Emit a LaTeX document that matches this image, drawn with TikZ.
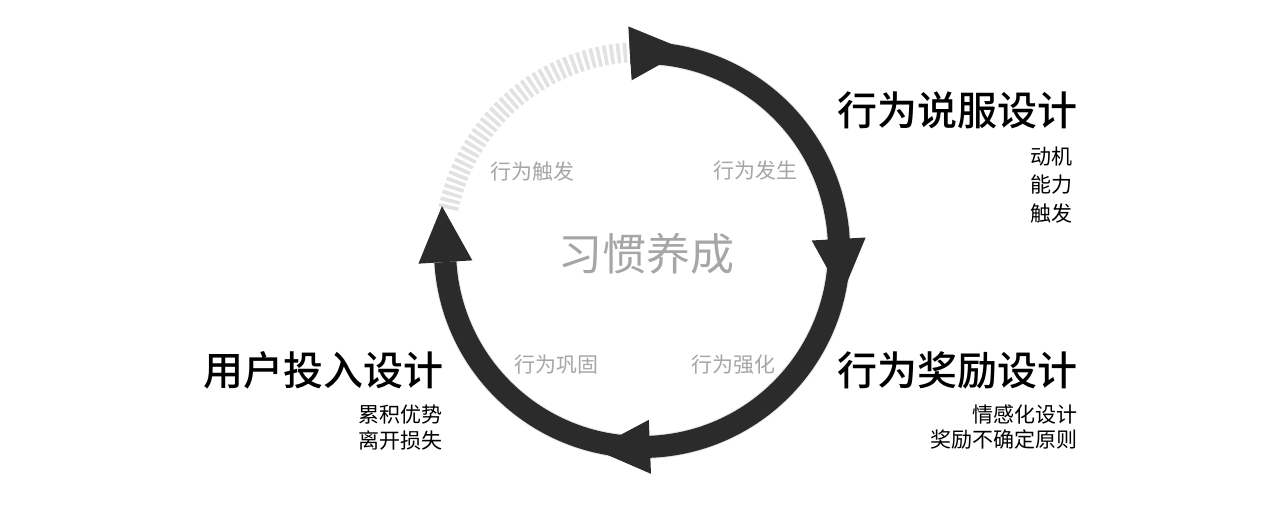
\documentclass[tikz,border=0pt]{standalone}
\usepackage{fontspec}
\newfontfamily\cjk{Noto Sans CJK SC}
\newfontfamily\cjkmed{Noto Sans CJK SC Medium}
\definecolor{band}{HTML}{2B2B2B}
\definecolor{dashgrey}{HTML}{E2E2E2}
\definecolor{lbl}{HTML}{A6A6A6}
\definecolor{shade}{HTML}{C8C8C8}
\tikzset{
  bandline/.style={line width=22pt, color=band},
  shadowline/.style={line width=24pt, color=shade, opacity=0.45},
  headfill/.style={fill=band, draw=none},
  dashband/.style={line width=20pt, color=dashgrey, dash pattern=on 3.6pt off 3pt},
  title/.style={font=\cjkmed\fontsize{40}{44}\selectfont, text=black, inner sep=0pt, anchor=east},
  sub/.style={font=\cjk\fontsize{21}{24}\selectfont, text=black, inner sep=0pt, anchor=east},
  stage/.style={font=\cjk\fontsize{21}{24}\selectfont, text=lbl, inner sep=0pt},
  centre/.style={font=\cjk\fontsize{44}{48}\selectfont, text=lbl, inner sep=0pt}
}
\begin{document}
\begin{tikzpicture}[x=1pt,y=1pt]
\useasboundingbox (0,0) rectangle (1280,506);
\fill[white] (0,0) rectangle (1280,506);
\coordinate (C) at (642,256);
% dashed grey arc (trigger)
\draw[dashband] ([shift={(168:198)}]C) arc[start angle=168, end angle=93.5, radius=198];
% shadow of the dark band
\begin{scope}[shift={(1.5,-2)}]
\draw[shadowline] ([shift={(93.5:197)}]C) arc[start angle=93.5, end angle=-176.5, radius=197];
\end{scope}
% dark band
\draw[bandline] ([shift={(93.5:197)}]C) arc[start angle=93.5, end angle=-176.5, radius=197];
% arrowheads (base centred on the circle, tip pointing clockwise)
\foreach \a/\n in {93.5/htop, 3.2/hright, -87.7/hbottom, 183.5/hleft}{
  \begin{scope}[shift={(C)}, rotate=\a]
    \fill[headfill] (224,0) -- (170,0) -- (197,-56) -- cycle;
  \end{scope}
}
% centre title
\node[centre] (habit) at (646,252) {习惯养成};
% stage labels
\node[stage] (s1) at (532,334) {行为触发};
\node[stage] (s2) at (755,335) {行为发生};
\node[stage] (s3) at (556,141) {行为巩固};
\node[stage] (s4) at (733,141) {行为强化};
% right top block
\node[title] (t1) at (1078,396) {行为说服设计};
\node[sub] (t1a) at (1073,349) {动机};
\node[sub] (t1b) at (1073,321) {能力};
\node[sub] (t1c) at (1073,292) {触发};
% right bottom block
\node[title] (t2) at (1078,136) {行为奖励设计};
\node[sub] (t2a) at (1078,91) {情感化设计};
\node[sub] (t2b) at (1078,66) {奖励不确定原则};
% left block
\node[title] (t3) at (444,136) {用户投入设计};
\node[sub] (t3a) at (443,91) {累积优势};
\node[sub] (t3b) at (443,66) {离开损失};
\end{tikzpicture}
\end{document}
